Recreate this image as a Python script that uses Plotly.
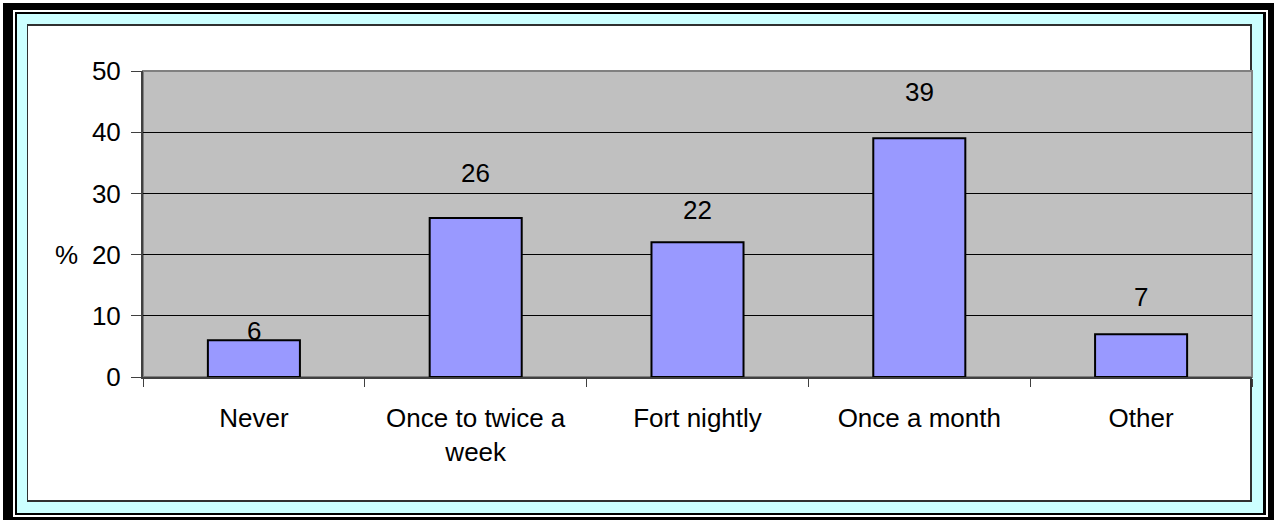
import plotly.graph_objects as go

# Survey: how often respondents do it (percentage of respondents)
categories = ["Never", "Once to twice a<br>week", "Fort nightly", "Once a month", "Other"]
percent = [6, 26, 22, 39, 7]
y_ticks = [0, 10, 20, 30, 40, 50]

# vertical lift (px) of each value label above its bar
label_lift = [9, 45, 32, 46, 37]

W, H = 1274, 521
L, R, T, B = 143, 22, 71, 144
PW, PH = W - L - R, H - T - B
FONT = "Arial, Liberation Sans, sans-serif"
FS = 26


def px_x(x):
    return (x - L) / PW


def px_y(y):
    return (H - B - y) / PH


def frame(x0, y0, x1, y1, fill, line=None, lw=0):
    return dict(
        type="rect", xref="paper", yref="paper", layer="below",
        x0=px_x(x0), x1=px_x(x1), y0=px_y(y1), y1=px_y(y0),
        fillcolor=fill, line=dict(color=line or fill, width=lw),
    )


shapes = [
    frame(3, 3, 1274, 520, "black"),
    frame(13, 10, 1268, 517, "white"),
    frame(15, 12, 1266, 515, "black"),
    frame(17, 14, 1263, 513, "#CCFFFF"),
    frame(27, 24, 1252, 502, "#303030"),
    frame(28, 26, 1250, 500, "white"),
    frame(L, T, W - R, H - B, "#C0C0C0", "#808080", 2),
]

fig = go.Figure(
    go.Bar(
        x=categories,
        y=percent,
        marker=dict(color="#9999FF", line=dict(color="black", width=2)),
        hoverinfo="skip",
    )
)

annotations = [
    dict(x=c, y=v, xref="x", yref="y", text=str(v), showarrow=False,
         yanchor="middle", yshift=s, font=dict(family=FONT, size=FS, color="black"))
    for c, v, s in zip(categories, percent, label_lift)
]
annotations.append(
    dict(x=px_x(66), y=20, xref="paper", yref="y", text="%", showarrow=False,
         xanchor="center", yanchor="middle",
         font=dict(family=FONT, size=FS, color="black"))
)

fig.update_layout(
    width=W, height=H,
    margin=dict(l=L, r=R, t=T, b=B, pad=0),
    paper_bgcolor="white",
    plot_bgcolor="#C0C0C0",
    bargap=0.585,
    showlegend=False,
    shapes=shapes,
    annotations=annotations,
    font=dict(family=FONT, size=FS, color="black"),
)

fig.update_xaxes(
    type="category",
    tickson="boundaries",
    ticks="outside", ticklen=8, tickwidth=1, tickcolor="#404040",
    showline=True, linecolor="#404040", linewidth=2,
    showgrid=False,
    tickfont=dict(family=FONT, size=FS, color="black"),
    ticklabelstandoff=17,
)

fig.update_yaxes(
    range=[0, 50],
    tickvals=y_ticks,
    ticks="outside", ticklen=10, tickwidth=1, tickcolor="#404040",
    showline=True, linecolor="#404040", linewidth=2,
    showgrid=True, gridcolor="black", gridwidth=1,
    zeroline=False,
    tickfont=dict(family=FONT, size=FS, color="black"),
    ticklabelstandoff=5,
)

fig.write_html("out.html")
